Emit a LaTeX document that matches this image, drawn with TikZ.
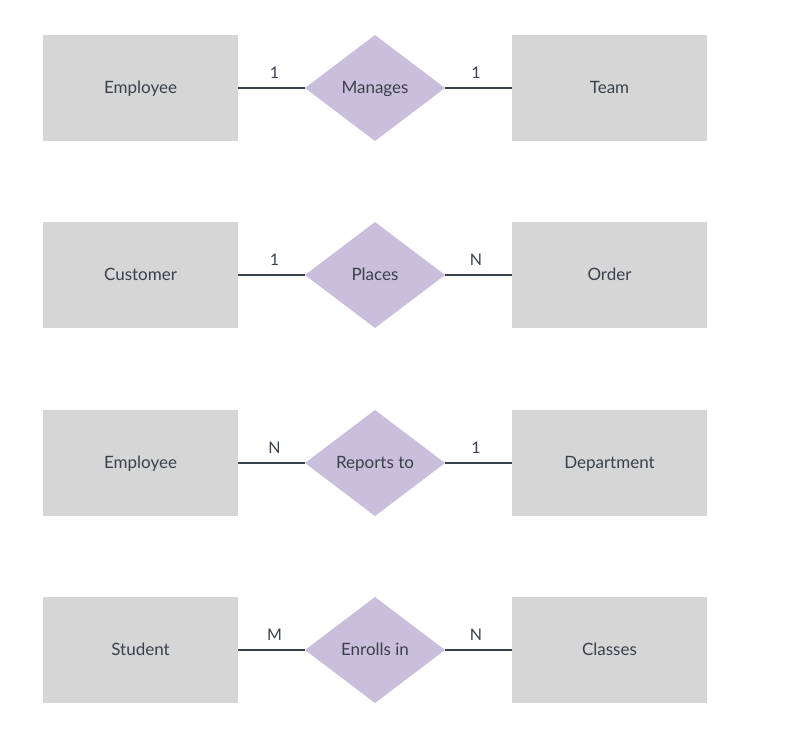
\documentclass[tikz,border=0pt]{standalone}
\usepackage{fontspec}
\setmainfont{Lato}
\usetikzlibrary{shapes.geometric}
\definecolor{boxgray}{HTML}{D6D6D6}
\definecolor{relpurple}{HTML}{C9BEDB}
\definecolor{inkgray}{HTML}{3A414A}
\tikzset{
  entity/.style={fill=boxgray, draw=none, minimum width=195pt, minimum height=106pt, inner sep=0pt, text=inkgray, font=\fontsize{17pt}{20pt}\selectfont},
  relation/.style={fill=none, draw=none, inner sep=0pt, text=inkgray, font=\fontsize{17pt}{20pt}\selectfont, text height=12pt, text depth=1pt},
  card/.style={text=inkgray, font=\fontsize{16pt}{18pt}\selectfont, inner sep=0pt},
  link/.style={draw=inkgray, line width=1.6pt}
}
\begin{document}
\begin{tikzpicture}[x=1pt, y=-1pt]
\useasboundingbox (0,0) rectangle (798,740);
\foreach \r/\yy/\a/\b/\c/\l/\rr in {1/88/Employee/Manages/Team/1/1, 2/275/Customer/Places/Order/1/N, 3/463/Employee/Reports to/Department/N/1, 4/650/Student/Enrolls in/Classes/M/N} {
  \node[entity, text height=12pt, text depth=1pt] (L\r) at (140.5,\yy) {\a};
  \fill[relpurple] (305,\yy) -- (375,\yy-53) -- (445,\yy) -- (375,\yy+53) -- cycle;
  \coordinate (Dw\r) at (305,\yy);
  \coordinate (De\r) at (445,\yy);
  \node[relation] (D\r) at (375,\yy) {\b};
  \node[entity, text height=12pt, text depth=1pt] (R\r) at (609.5,\yy) {\c};
  \draw[link] (L\r.east) -- (Dw\r);
  \draw[link] (De\r) -- (R\r.west);
  \node[card] (cl\r) at (274.5,\yy-15) {\l};
  \node[card] (cr\r) at (476,\yy-15) {\rr};
}
\end{tikzpicture}
\end{document}
